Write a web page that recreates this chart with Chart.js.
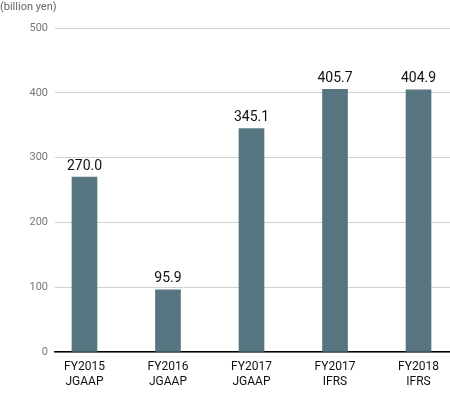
<!DOCTYPE html>
<html>
<head>
<meta charset="utf-8">
<script src="https://cdn.jsdelivr.net/npm/chart.js@4"></script>
<style>
  html, body { margin: 0; padding: 0; background: #fff; }
  #wrap { width: 450px; height: 400px; }
</style>
</head>
<body>
<div id="wrap"><canvas id="chart"></canvas></div>
<script>
const years = ['FY2015', 'FY2016', 'FY2017', 'FY2017', 'FY2018'];
const standards = ['JGAAP', 'JGAAP', 'JGAAP', 'IFRS', 'IFRS'];
const values = [270.0, 95.9, 345.1, 405.7, 404.9];
const yTicks = [0, 100, 200, 300, 400, 500];

// numbers over the bars
const valueLabels = {
  id: 'valueLabels',
  afterDatasetsDraw(chart) {
    const ctx = chart.ctx;
    const meta = chart.getDatasetMeta(0);
    ctx.save();
    ctx.font = '14px Roboto';
    ctx.fillStyle = '#111';
    ctx.textAlign = 'center';
    ctx.textBaseline = 'bottom';
    meta.data.forEach((bar, i) => {
      ctx.fillText(values[i].toFixed(1), bar.x, bar.y - 4);
    });
    ctx.restore();
  }
};

new Chart(document.getElementById('chart'), {
  type: 'bar',
  data: {
    datasets: [{
      data: values.map((v, i) => ({ x: i, y: v })),
      backgroundColor: '#567581',
      barThickness: 25
    }]
  },
  options: {
    responsive: true,
    maintainAspectRatio: false,
    animation: false,
    layout: { padding: 0 },
    plugins: {
      legend: { display: false },
      tooltip: { enabled: false },
      title: {
        display: true,
        text: '(billion yen)',
        align: 'start',
        color: '#666',
        font: { family: 'Roboto', size: 11, weight: 'normal' },
        padding: { top: 1, bottom: 14 }
      }
    },
    scales: {
      x: {
        type: 'linear',
        offset: false,
        min: -0.353,
        max: 4.377,
        grid: { display: false, drawTicks: false },
        border: { color: '#000', width: 1.5 },
        afterBuildTicks: s => { s.ticks = years.map((_, i) => ({ value: i })); },
        afterFit: s => { s.height = 48; },
        ticks: {
          color: '#111',
          padding: 8,
          maxRotation: 0,
          autoSkip: false,
          font: { family: 'Roboto', size: 12, lineHeight: 1.2 },
          callback: v => [years[v], standards[v]]
        }
      },
      y: {
        min: 0,
        max: 500,
        afterBuildTicks: s => { s.ticks = yTicks.map(v => ({ value: v })); },
        afterFit: s => { s.width = 55; },
        grid: { color: '#d0d0d0', drawTicks: false },
        border: { display: false },
        ticks: {
          color: '#777',
          padding: 7,
          font: { family: 'Roboto', size: 11 }
        }
      }
    }
  },
  plugins: [valueLabels]
});
</script>
</body>
</html>
